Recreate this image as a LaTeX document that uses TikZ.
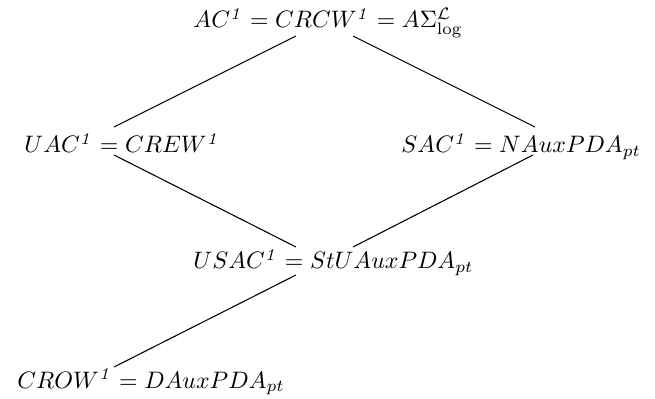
\documentclass[tikz,border=0pt]{standalone}
\begin{document}
\begin{tikzpicture}[x=0.42pt,y=-0.42pt,
  cls/.style={anchor=base west,inner sep=0pt},
  edge/.style={line width=0.45pt}]
\useasboundingbox (0,0) rectangle (655,399);
% complexity classes
\node[cls] (ac)   at (193,28)  {$AC^{\mathit{1}}=CRCW^{\mathit{1}}=A\Sigma^{\mathcal{L}}_{\log}$};
\node[cls] (uac)  at (24,153)  {$UAC^{\mathit{1}}=CREW^{\mathit{1}}$};
\node[cls] (sac)  at (401,153) {$SAC^{\mathit{1}}=NAuxPDA_{pt}$};
\node[cls] (usac) at (193,269) {$USAC^{\mathit{1}}=StUAuxPDA_{pt}$};
\node[cls] (crow) at (17,388)  {$CROW^{\mathit{1}}=DAuxPDA_{pt}$};
% line end points around each class
\coordinate (acL)   at (296,36);
\coordinate (acR)   at (353,36);
\coordinate (uacT)  at (114,127);
\coordinate (uacB)  at (114,155);
\coordinate (sacT)  at (535,127);
\coordinate (sacB)  at (533,155);
\coordinate (usacL) at (296,247);
\coordinate (usacR) at (353,247);
\coordinate (usacB) at (296,275);
\coordinate (crowT) at (114,367);
% inclusions
\draw[edge] (acL) -- (uacT);
\draw[edge] (acR) -- (sacT);
\draw[edge] (uacB) -- (usacL);
\draw[edge] (sacB) -- (usacR);
\draw[edge] (usacB) -- (crowT);
\end{tikzpicture}
\end{document}
